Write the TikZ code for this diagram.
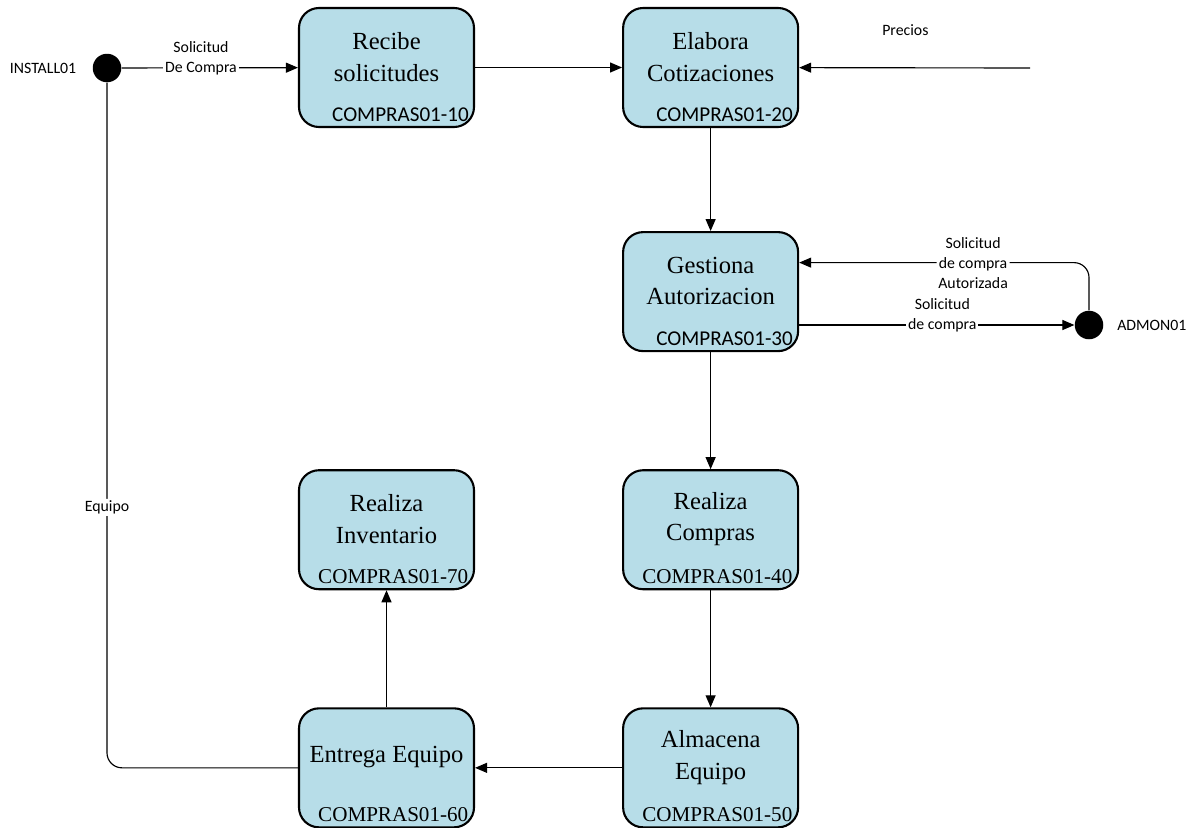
\documentclass[tikz,border=0pt]{standalone}
\usepackage{fontspec}
\setmainfont{Liberation Serif}
\newfontfamily\lblfont{Carlito}
\usetikzlibrary{arrows.meta,positioning}
\definecolor{boxblue}{RGB}{183,221,232}

\begin{document}
\begin{tikzpicture}[
    node distance=2.06cm and 2.94cm,
    box/.style={rectangle, draw, line width=1.2pt, rounded corners=0.4cm, fill=boxblue, minimum width=3.5cm, minimum height=2.38cm},
    ttl/.style={align=center, font=\fontsize{14}{18}\selectfont},
    codesf/.style={anchor=south east, inner sep=0.12cm, font=\lblfont\fontsize{12}{14}\selectfont},
    coderm/.style={anchor=south east, inner sep=0.13cm, font=\fontsize{12}{14}\selectfont},
    lbl/.style={align=center, font=\lblfont\fontsize{9}{11.4}\selectfont},
    onlbl/.style={lbl, fill=white, inner sep=1pt},
    dot/.style={circle, fill=black, minimum size=0.57cm, inner sep=0pt},
    arrow/.style={-{Triangle[length=0.24cm, width=0.2cm]}, line width=0.65pt},
    plainline/.style={line width=0.65pt}
]
\useasboundingbox (0,0) rectangle (23.94,-16.54);

% Process boxes
\node[box] (recibe) at (7.73,-1.35) {};
\node[box, right=of recibe] (elabora) {};
\node[box, below=of elabora] (gestiona) {};
\node[box, below=2.34cm of gestiona] (compras) {};
\node[box, below=2.34cm of compras] (almacena) {};
\node[box, left=of almacena] (entrega) {};
\node[box, left=of compras] (inventario) {};

% Titles
\node[ttl] (recibe-t) at ([yshift=0.21cm]recibe.center) {Recibe\\solicitudes};
\node[ttl] (elabora-t) at ([yshift=0.21cm]elabora.center) {Elabora\\Cotizaciones};
\node[ttl] (gestiona-t) at ([yshift=0.21cm]gestiona.center) {Gestiona\\Autorizacion};
\node[ttl] (compras-t) at ([yshift=0.21cm]compras.center) {Realiza\\Compras};
\node[ttl] (almacena-t) at ([yshift=0.21cm]almacena.center) {Almacena\\Equipo};
\node[ttl] (entrega-t) at ([yshift=0.21cm]entrega.center) {Entrega Equipo};
\node[ttl] (inventario-t) at ([yshift=0.21cm]inventario.center) {Realiza\\Inventario};

% Codes
\node[codesf] (recibe-c) at (recibe.south east) {COMPRAS01-10};
\node[codesf] (elabora-c) at (elabora.south east) {COMPRAS01-20};
\node[codesf] (gestiona-c) at (gestiona.south east) {COMPRAS01-30};
\node[coderm] (compras-c) at (compras.south east) {COMPRAS01-40};
\node[coderm] (almacena-c) at (almacena.south east) {COMPRAS01-50};
\node[coderm] (entrega-c) at (entrega.south east) {COMPRAS01-60};
\node[coderm] (inventario-c) at (inventario.south east) {COMPRAS01-70};

% External points
\node[dot] (install) at (2.14,-1.36) {};
\node[lbl, left=0.2cm of install] (install-l) {INSTALL01};
\node[dot] (admon) at (21.78,-6.5) {};
\node[lbl, right=0.15cm of admon] (admon-l) {ADMON01};
\coordinate (precios) at (20.6,-1.36);

% Arrows
\draw[arrow] (install) -- node[onlbl, pos=0.45, yshift=0.2cm] {Solicitud\\De Compra} (recibe);
\draw[arrow] (recibe) -- (elabora);
\draw[arrow] (precios) -- node[lbl, pos=0.54, yshift=0.76cm] {Precios} (elabora);
\draw[arrow] (elabora) -- (gestiona);
\draw[arrow] (gestiona.east |- admon) -- node[onlbl, pos=0.52, yshift=0.2cm] {Solicitud\\de compra} (admon);
\draw[arrow, rounded corners=0.3cm] (admon.north) |- node[onlbl, pos=0.7] {Solicitud\\de compra\\Autorizada} ([yshift=0.58cm]gestiona.east);
\draw[arrow] (gestiona) -- (compras);
\draw[arrow] (compras) -- (almacena);
\draw[arrow] (almacena) -- (entrega);
\draw[arrow] (entrega) -- (inventario);
\draw[plainline, rounded corners=0.3cm] (entrega.west) -| node[onlbl, pos=0.69] {Equipo} (install.south);

\end{tikzpicture}
\end{document}
